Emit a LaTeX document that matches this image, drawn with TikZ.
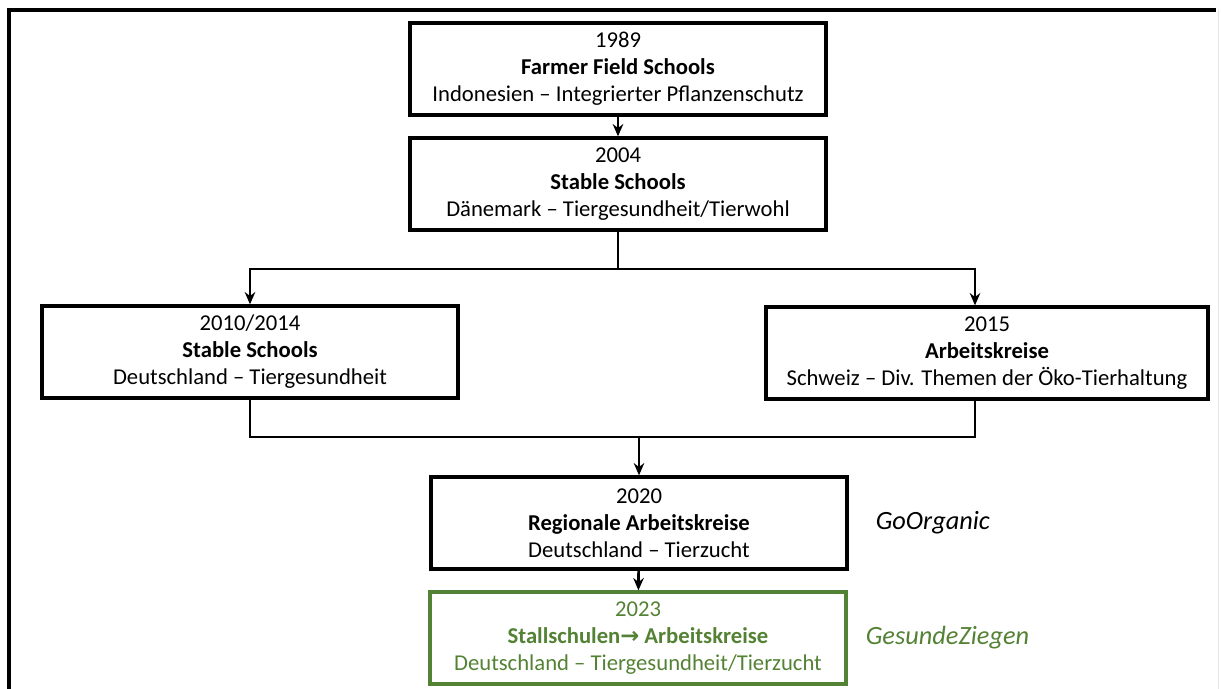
\documentclass[tikz,border=0pt]{standalone}
\usepackage{fontspec}
\setmainfont{Carlito}
\newfontfamily\symfont{DejaVu Sans}
\usepackage{tikz}
\usetikzlibrary{arrows.meta}
\definecolor{gogreen}{HTML}{548235}

\begin{document}
\begin{tikzpicture}[
    x=0.02cm, y=-0.02cm,
    font=\fontsize{12.9pt}{15.4pt}\selectfont,
    % Node styles:
    block/.style={rectangle, draw, line width=1.9pt, align=center,
                  minimum width=8.32cm, minimum height=1.84cm, inner sep=2pt},
    greenblock/.style={block, draw=gogreen, text=gogreen},
    project/.style={anchor=west, font=\fontsize{15pt}{18pt}\selectfont\itshape},
    % Arrow styles:
    link/.style={line width=1.5pt},
    line/.style={link, -{Stealth[length=7pt, width=6pt]}},
]
\useasboundingbox (0,0) rectangle (1221,689);

% --- FRAME ---
\draw[line width=2.4pt] (9,689) -- (9,10) -- (1216,10);
\draw[black!10, line width=0.4pt] (1218,10) -- (1218,689);

% --- NODES ---
\node[block] (ffs)    at (618,69)  {1989\\\textbf{Farmer Field Schools}\\Indonesien -- Integrierter Pflanzenschutz};
\node[block] (stdk)   at (618,184) {2004\\\textbf{Stable Schools}\\Dänemark -- Tiergesundheit/Tierwohl};
\node[block] (stde)   at (250,352) {2010/2014\\\textbf{Stable Schools}\\Deutschland -- Tiergesundheit};
\node[block, minimum width=8.84cm] (akch) at (987,353)
      {2015\\\textbf{Arbeitskreise}\\Schweiz -- Div. Themen der Öko-Tierhaltung};
\node[block] (regak)  at (639,523) {2020\\\textbf{Regionale Arbeitskreise}\\Deutschland -- Tierzucht};
\node[greenblock] (stallak) at (638,638)
      {2023\\\textbf{Stallschulen{\symfont →} Arbeitskreise}\\Deutschland -- Tiergesundheit/Tierzucht};

% project names beside the boxes
\node[project]              (goorg)  at ([xshift=0.42cm]regak.east)  {GoOrganic};
\node[project, text=gogreen] (gesund) at ([xshift=0.24cm]stallak.east) {GesundeZiegen};

% --- ARROWS ---
\coordinate (fork) at (618,269);
\coordinate (join) at (639,437);

\draw[line] (ffs) -- (stdk);
\draw[link] (stdk) -- (fork);
\draw[line] (fork) -| ([xshift=-0.24cm]akch.north);
\draw[line] (fork) -| (stde);

\draw[link] (stde) |- (join);
\draw[link] ([xshift=-0.24cm]akch.south) |- (join);
\draw[line] (join) -- (regak);

\draw[line] (regak) -- (stallak);

\end{tikzpicture}
\end{document}
